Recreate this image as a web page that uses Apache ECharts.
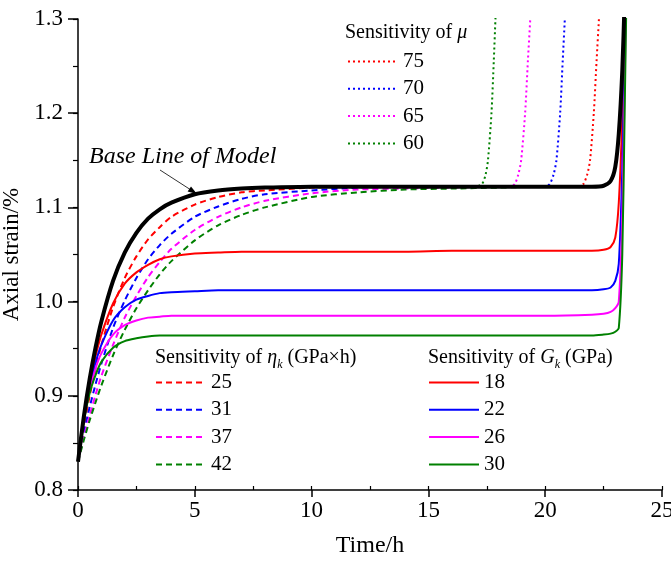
<!DOCTYPE html>
<html>
<head>
<meta charset="utf-8">
<script src="https://cdn.jsdelivr.net/npm/echarts@6/dist/echarts.min.js"></script>
<style>
html,body{margin:0;padding:0;background:#fff;}
#c{width:671px;height:561px;}
</style>
</head>
<body>
<div id="c"></div>
<script>
// ---- data ----
const time = [0,0.25,0.5,0.75,1,1.5,2,2.5,3,3.5,4,5,6,7,8,10,12,14,16,18,20,22,22.5,22.8,23,23.15,23.3,23.4,23.5];

const baseLine = [0.830,0.878,0.918,0.951,0.979,1.022,1.052,1.073,1.088,1.098,1.105,1.114,1.118,1.120,1.121,1.122,1.122,1.122,1.122,1.122,1.122,1.122,1.123,1.128,1.143,1.178,1.245,1.320,1.400];

// Sensitivity of Gk (solid)
const gk18 = [0.830,0.876,0.913,0.942,0.965,0.998,1.019,1.031,1.039,1.045,1.048,1.051,1.052,1.053,1.053,1.053,1.053,1.053,1.054,1.054,1.054,1.054,1.055,1.058,1.068,1.105,1.195,1.290,1.380];
const gk22 = [0.830,0.876,0.910,0.935,0.954,0.980,0.994,1.002,1.006,1.009,1.010,1.011,1.012,1.012,1.012,1.012,1.012,1.012,1.012,1.012,1.012,1.012,1.013,1.015,1.022,1.040,1.140,1.260,1.360];
const gk26 = [0.830,0.874,0.906,0.929,0.945,0.965,0.975,0.980,0.983,0.984,0.985,0.985,0.985,0.985,0.985,0.985,0.985,0.985,0.985,0.985,0.985,0.986,0.987,0.989,0.993,1.000,1.090,1.230,1.370];
const gk30 = [0.830,0.873,0.903,0.922,0.936,0.951,0.958,0.961,0.963,0.964,0.964,0.964,0.964,0.964,0.964,0.964,0.964,0.964,0.964,0.964,0.964,0.964,0.965,0.966,0.968,0.972,1.050,1.200,1.360];

// Sensitivity of eta_k (dashed)
const eta25 = [0.830,0.867,0.900,0.929,0.954,0.994,1.025,1.048,1.066,1.079,1.090,1.103,1.111,1.116,1.118,1.121,1.122,1.122,1.122,1.122,1.122,1.122,1.123,1.128,1.143,1.178,1.245,1.320,1.400];
const eta31 = [0.830,0.861,0.888,0.912,0.934,0.972,1.001,1.025,1.045,1.060,1.072,1.090,1.101,1.109,1.114,1.118,1.121,1.122,1.122,1.122,1.122,1.122,1.123,1.128,1.143,1.178,1.245,1.320,1.400];
const eta37 = [0.830,0.856,0.879,0.901,0.921,0.954,0.983,1.006,1.026,1.042,1.056,1.076,1.090,1.100,1.107,1.115,1.119,1.120,1.121,1.122,1.122,1.122,1.123,1.128,1.143,1.178,1.245,1.320,1.400];
const eta42 = [0.830,0.853,0.874,0.893,0.911,0.943,0.970,0.993,1.012,1.029,1.043,1.065,1.081,1.092,1.100,1.111,1.116,1.119,1.120,1.121,1.122,1.122,1.123,1.128,1.143,1.178,1.245,1.320,1.400];

// Sensitivity of mu (dotted)
const mu75T = [12,16,21.45,21.64,21.80,21.92,22.08,22.20,22.30,22.40];
const mu75V = [1.122,1.122,1.122,1.125,1.135,1.150,1.200,1.256,1.300,1.350];
const mu70T = [12,16,20.00,20.20,20.36,20.48,20.64,20.75,20.84,20.93];
const mu70V = [1.122,1.122,1.122,1.125,1.135,1.150,1.200,1.256,1.300,1.350];
const mu65T = [12,16,18.50,18.70,18.85,18.97,19.14,19.26,19.36,19.45];
const mu65V = [1.122,1.122,1.122,1.125,1.135,1.150,1.200,1.256,1.300,1.350];
const mu60T = [12,16,17.00,17.30,17.45,17.55,17.70,17.80,17.87,17.95];
const mu60V = [1.122,1.122,1.122,1.125,1.135,1.150,1.200,1.256,1.300,1.350];

const xTicks = {min:0, max:25, step:5};
const yTicks = {min:0.8, max:1.3, step:0.1};

// ---- build ----
const RED='#ff0000', BLUE='#0000ff', MAG='#ff00ff', GRN='#008000';
const FONT='Liberation Serif';
const zip = (xs, ys) => xs.map((x,i)=>[x, ys[i]]);

function line(name, xs, ys, color, type, width, z){
  return {
    name, type:'line', data: zip(xs, ys), showSymbol:false, symbol:'none',
    smooth:0.25, clip:true, z:z||2,
    lineStyle:{color, width:width||2, type:type||'solid', join:'round'},
    itemStyle:{color}, emphasis:{disabled:true}, silent:true
  };
}
const DOT=[2,3], DASH=[6,4];

const series = [
  line('75', mu75T, mu75V, RED, DOT, 2),
  line('70', mu70T, mu70V, BLUE, DOT, 2),
  line('65', mu65T, mu65V, MAG, DOT, 2),
  line('60', mu60T, mu60V, GRN, DOT, 2),
  line('25', time, eta25, RED, DASH, 2),
  line('31', time, eta31, BLUE, DASH, 2),
  line('37', time, eta37, MAG, DASH, 2),
  line('42', time, eta42, GRN, DASH, 2),
  line('18', time, gk18, RED, 'solid', 2),
  line('22', time, gk22, BLUE, 'solid', 2),
  line('26', time, gk26, MAG, 'solid', 2),
  line('30', time, gk30, GRN, 'solid', 2),
  line('Base Line of Model', time, baseLine, '#000', 'solid', 4, 5)
];

const legendBase = {
  orient:'vertical', itemWidth:50, itemHeight:14, itemGap:6.3, padding:0,
  selectedMode:false,
  itemStyle:{opacity:0, borderWidth:0},
  textStyle:{fontFamily:FONT, fontSize:21, color:'#000', lineHeight:21}
};

const axisFont = {fontFamily:FONT, fontSize:23, color:'#000'};

const option = {
  backgroundColor:'#fff',
  animation:false,
  grid:{left:78, right:9, top:19, bottom:71, containLabel:false, outerBoundsMode:'none'},
  xAxis:[{
    type:'value', min:xTicks.min, max:xTicks.max, interval:xTicks.step,
    name:'Time/h', nameLocation:'middle', nameGap:44,
    nameTextStyle:{fontFamily:FONT, fontSize:24, color:'#000'},
    axisLine:{show:true, onZero:false, lineStyle:{color:'#000', width:1.5}},
    axisTick:{show:true, inside:false, length:7, lineStyle:{color:'#000', width:1.5}},
    axisLabel:Object.assign({margin:9, hideOverlap:false}, axisFont),
    splitLine:{show:false}
  },{
    type:'value', min:xTicks.min, max:xTicks.max, interval:xTicks.step/2,
    position:'bottom',
    axisLine:{show:false}, axisLabel:{show:false},
    axisTick:{show:true, inside:true, length:4, lineStyle:{color:'#000', width:1.2}},
    splitLine:{show:false}
  }],
  yAxis:[{
    type:'value', min:yTicks.min, max:yTicks.max, interval:yTicks.step,
    name:'Axial strain/%', nameLocation:'middle', nameGap:39,
    nameTextStyle:{fontFamily:FONT, fontSize:23, color:'#000'},
    axisLine:{show:true, onZero:false, lineStyle:{color:'#000', width:1.5}},
    axisTick:{show:true, inside:false, length:10, lineStyle:{color:'#000', width:1.5}},
    axisLabel:Object.assign({margin:15, formatter:v=>v.toFixed(1)}, axisFont),
    splitLine:{show:false}
  },{
    type:'value', min:yTicks.min, max:yTicks.max, interval:yTicks.step/2,
    position:'left',
    axisLine:{show:false}, axisLabel:{show:false},
    axisTick:{show:true, inside:false, length:5, lineStyle:{color:'#000', width:1.2}},
    splitLine:{show:false}
  }],
  legend:[
    Object.assign({}, legendBase, {left:347, top:51, data:['75','70','65','60']}),
    Object.assign({}, legendBase, {left:155, top:372, data:['25','31','37','42']}),
    Object.assign({}, legendBase, {left:428, top:372, data:['18','22','26','30']})
  ],
  graphic:[
    {type:'text', left:345, top:23, silent:true,
     style:{text:'{a|Sensitivity of }{i|μ}', rich:{
       a:{fontFamily:FONT, fontSize:20, fill:'#000'},
       i:{fontFamily:FONT, fontSize:20, fontStyle:'italic', fill:'#000'}}}},
    {type:'text', left:155, top:348, silent:true,
     style:{text:'{a|Sensitivity of }{i|η}{s|k}{a| (GPa×h)}', rich:{
       a:{fontFamily:FONT, fontSize:20, fill:'#000', lineHeight:26},
       i:{fontFamily:FONT, fontSize:20, fontStyle:'italic', fill:'#000', lineHeight:26},
       s:{fontFamily:FONT, fontSize:12, fontStyle:'italic', fill:'#000', lineHeight:12, verticalAlign:'bottom'}}}},
    {type:'text', left:428, top:348, silent:true,
     style:{text:'{a|Sensitivity of }{i|G}{s|k}{a| (GPa)}', rich:{
       a:{fontFamily:FONT, fontSize:20, fill:'#000', lineHeight:26},
       i:{fontFamily:FONT, fontSize:20, fontStyle:'italic', fill:'#000', lineHeight:26},
       s:{fontFamily:FONT, fontSize:12, fontStyle:'italic', fill:'#000', lineHeight:12, verticalAlign:'bottom'}}}},
    {type:'text', left:89, top:145, silent:true,
     style:{text:'Base Line of Model', fontFamily:FONT, fontSize:24, fontStyle:'italic', fill:'#000'}},
    {type:'line', silent:true, shape:{x1:160, y1:170, x2:191, y2:190},
     style:{stroke:'#333', lineWidth:1}},
    {type:'polygon', silent:true, shape:{points:[[197,194],[187.6,191.6],[191.0,186.4]]},
     style:{fill:'#000'}}
  ],
  series
};

const chart = echarts.init(document.getElementById('c'), null, {renderer:'canvas'});
chart.setOption(option);
</script>
</body>
</html>
